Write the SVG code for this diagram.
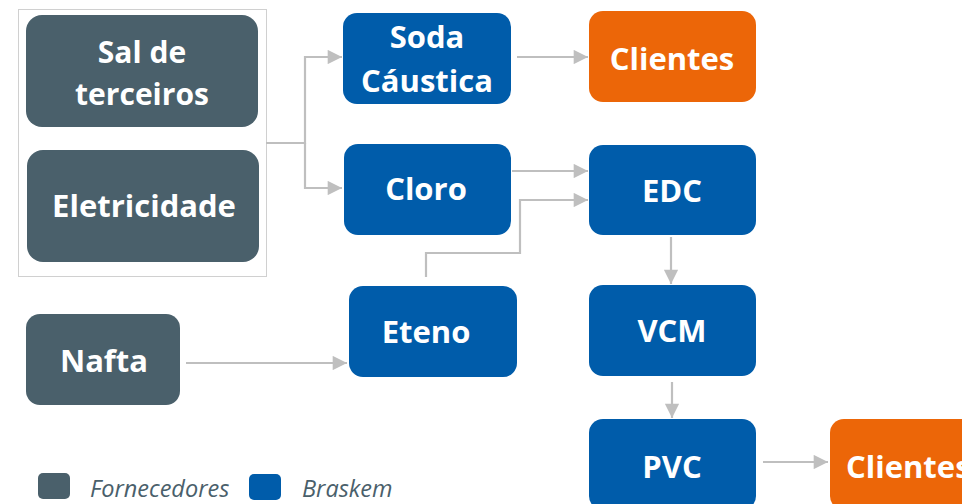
<svg xmlns="http://www.w3.org/2000/svg" width="962" height="504" viewBox="0 0 962 504">
<style>
.sup{fill:#4a606b}
.bra{fill:#005caa}
.cli{fill:#ec6608}
.t{font-family:"Open Sans","Noto Sans","DejaVu Sans",sans-serif;font-weight:700;font-size:31px;fill:#ffffff;text-anchor:middle}
.lg{font-family:"Open Sans","Noto Sans","DejaVu Sans",sans-serif;font-style:italic;font-size:23.5px;fill:#4a606b}
.c{fill:none;stroke:#bfbfbf;stroke-width:2.2}
</style>
<defs>
<marker id="ah" viewBox="0 0 10 10" refX="10" refY="5" markerWidth="7" markerHeight="6.5" markerUnits="strokeWidth" orient="auto">
<path d="M0,0 L10,5 L0,10 Z" fill="#bfbfbf"/>
</marker>
</defs>
<rect x="18.5" y="9.5" width="248" height="267" fill="none" stroke="#d0d0d0" stroke-width="1"/>
<g id="connectors">
<path class="c" d="M266,143 H305 V57 H342" marker-end="url(#ah)"/>
<path class="c" d="M305,143 V188 H342" marker-end="url(#ah)"/>
<path class="c" d="M517,57 H588" marker-end="url(#ah)"/>
<path class="c" d="M512,171 H588" marker-end="url(#ah)"/>
<path class="c" d="M426,277 V253 H520 V200 H588" marker-end="url(#ah)"/>
<path class="c" d="M186,363 H347" marker-end="url(#ah)"/>
<path class="c" d="M671,237 V284" marker-end="url(#ah)"/>
<path class="c" d="M672,382 V418" marker-end="url(#ah)"/>
<path class="c" d="M763,462 H828" marker-end="url(#ah)"/>
</g>
<g id="sal"><rect class="sup" x="26" y="15" width="232" height="112" rx="16"/><text class="t" x="142" y="63" style="font-size:30px">Sal de</text><text class="t" x="142" y="105" style="font-size:30px">terceiros</text></g>
<g id="eletricidade"><rect class="sup" x="27" y="150" width="232" height="112" rx="16"/><text class="t" x="144" y="217">Eletricidade</text></g>
<g id="nafta"><rect class="sup" x="26" y="314" width="154" height="91" rx="14"/><text class="t" x="104" y="372">Nafta</text></g>
<g id="soda"><rect class="bra" x="343" y="13" width="168" height="91" rx="14"/><text class="t" x="427" y="48">Soda</text><text class="t" x="427" y="92">Cáustica</text></g>
<g id="cloro"><rect class="bra" x="344" y="144" width="167" height="91" rx="14"/><text class="t" x="426" y="200">Cloro</text></g>
<g id="eteno"><rect class="bra" x="349" y="286" width="168" height="91" rx="14"/><text class="t" x="426" y="343">Eteno</text></g>
<g id="clientes1"><rect class="cli" x="589" y="11" width="167" height="91" rx="14"/><text class="t" x="672" y="70">Clientes</text></g>
<g id="edc"><rect class="bra" x="589" y="145" width="167" height="90" rx="14"/><text class="t" x="672" y="202">EDC</text></g>
<g id="vcm"><rect class="bra" x="589" y="285" width="167" height="91" rx="14"/><text class="t" x="672" y="342">VCM</text></g>
<g id="pvc"><rect class="bra" x="589" y="419" width="167" height="91" rx="14"/><text class="t" x="672" y="478">PVC</text></g>
<g id="clientes2"><rect class="cli" x="830" y="419" width="167" height="91" rx="14"/><text class="t" x="846" y="478" style="text-anchor:start">Clientes</text></g>
<g id="legend">
<rect class="sup" x="38" y="473" width="32" height="26" rx="5"/>
<text class="lg" x="90" y="497">Fornecedores</text>
<rect class="bra" x="249" y="474" width="32" height="26" rx="5"/>
<text class="lg" x="302" y="497">Braskem</text>
</g>
</svg>
